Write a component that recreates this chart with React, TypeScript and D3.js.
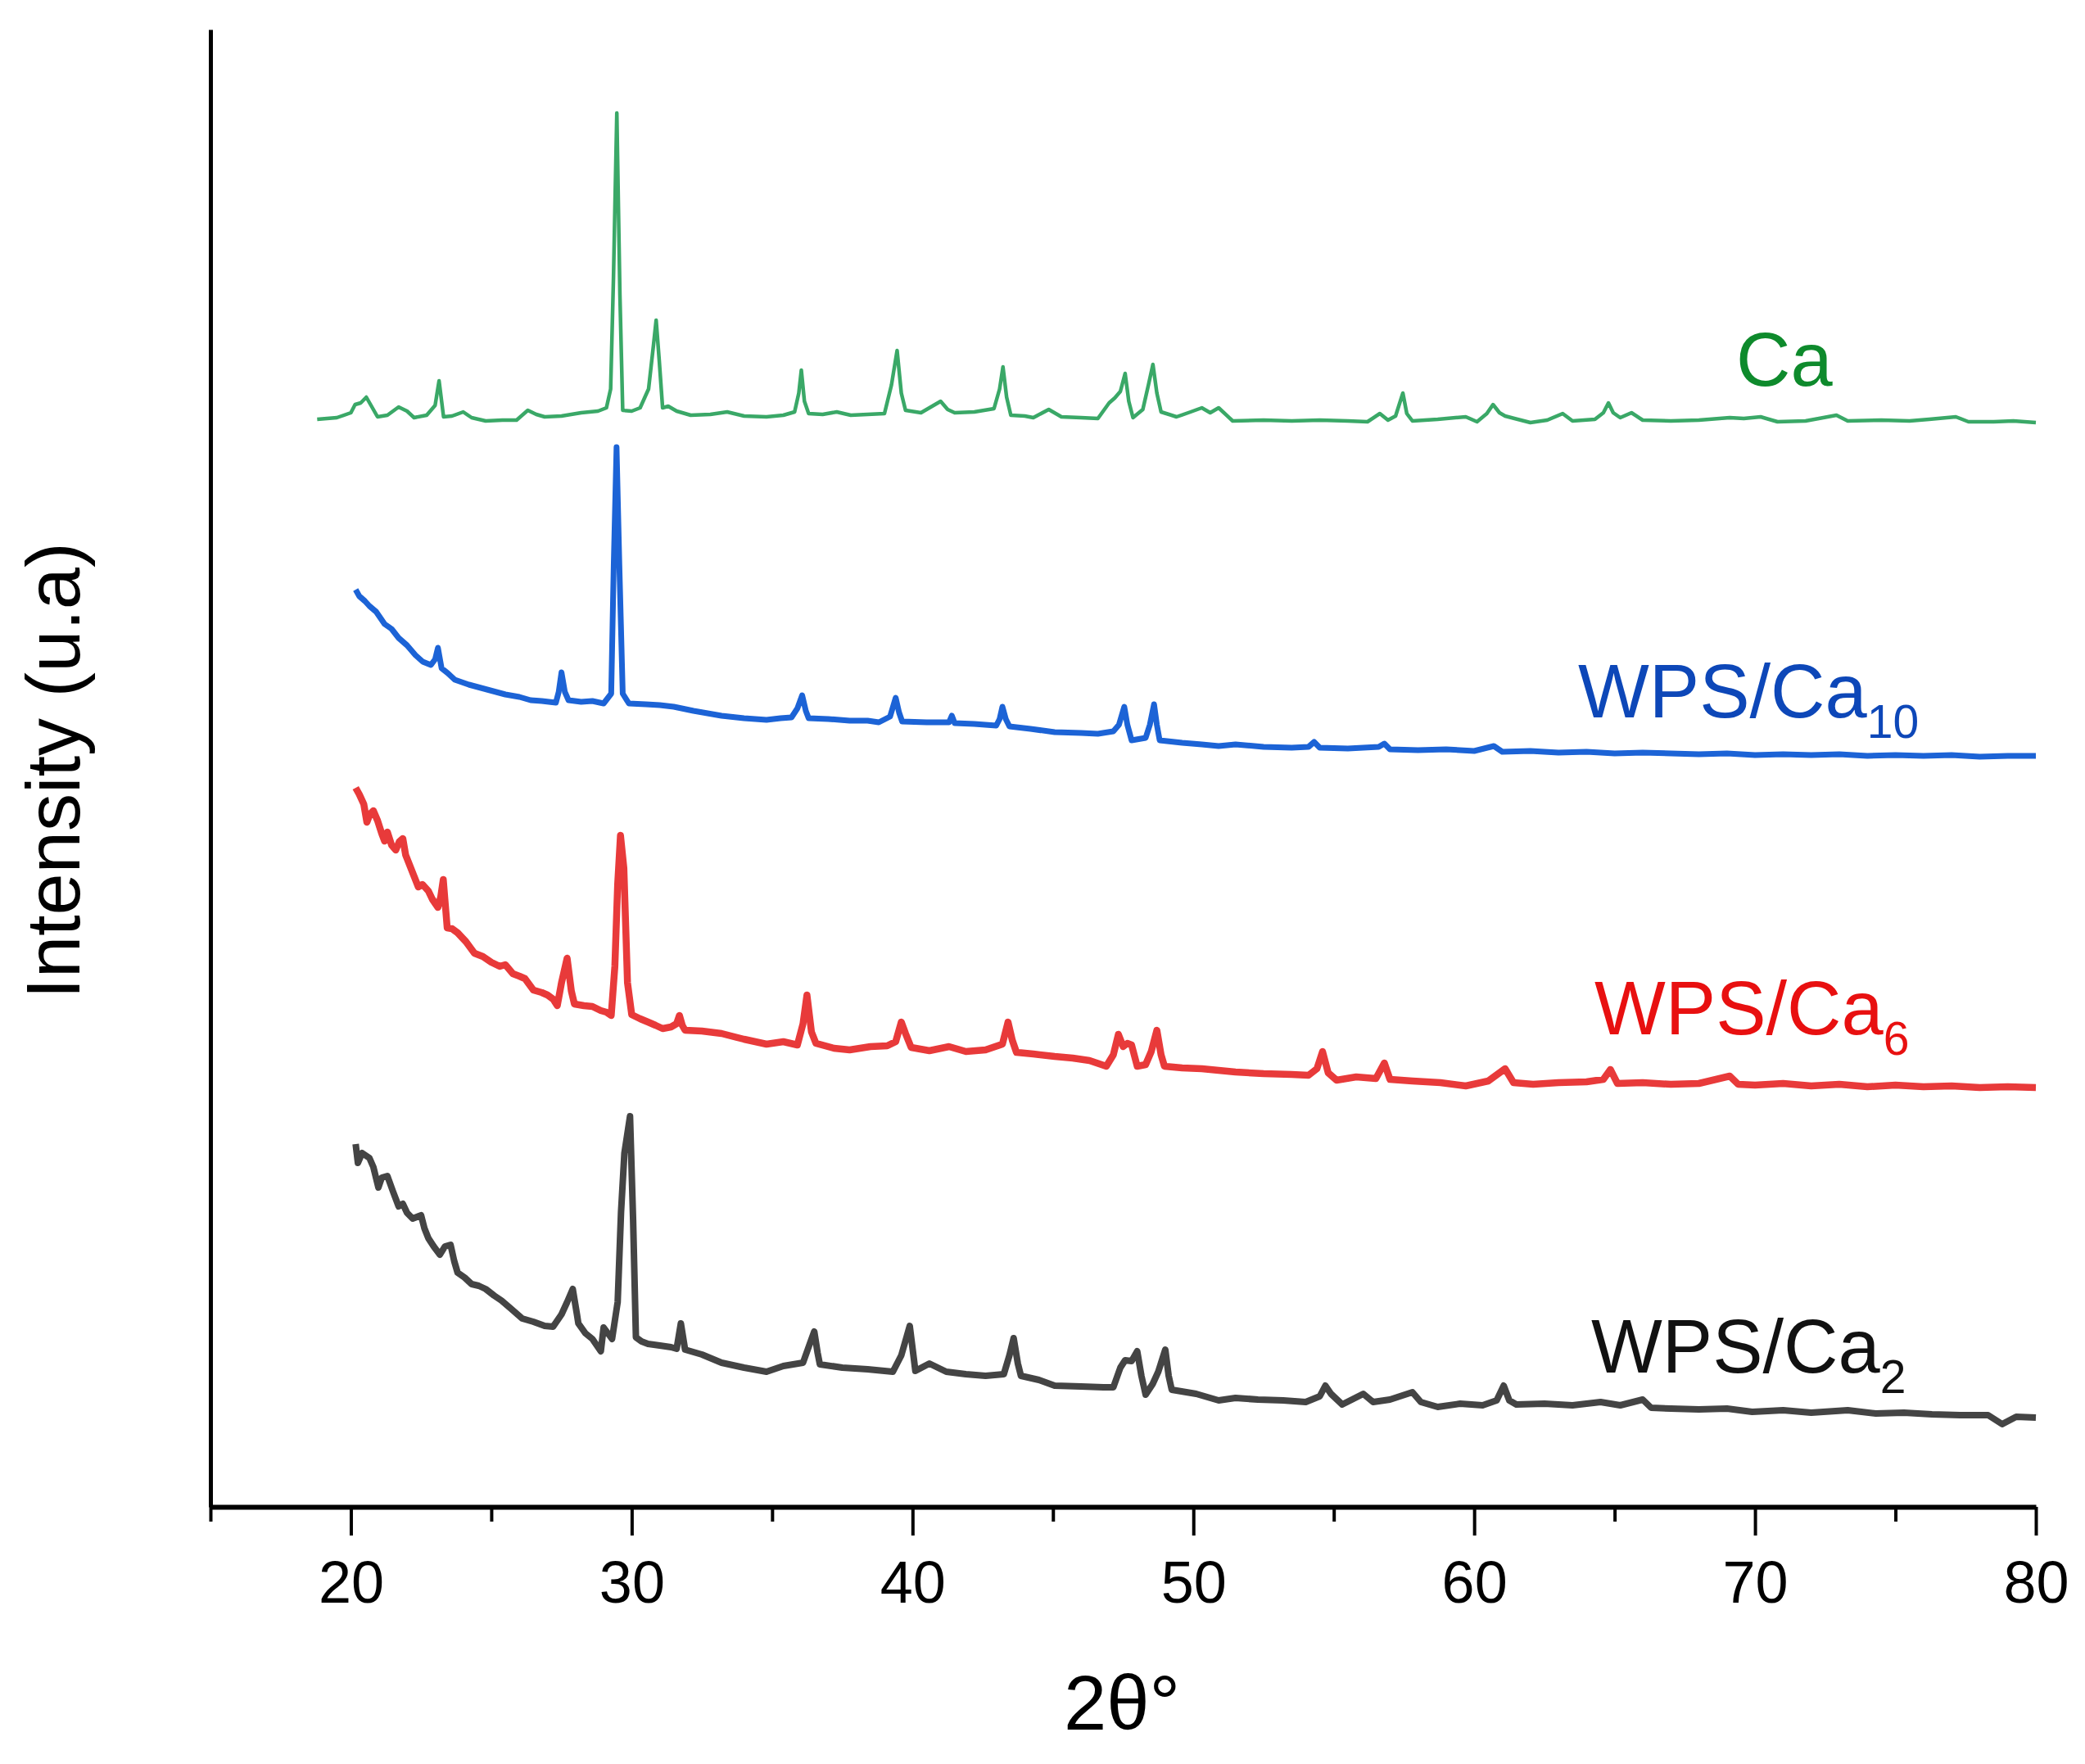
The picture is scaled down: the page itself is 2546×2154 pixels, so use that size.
import * as d3 from "d3";
import { useEffect, useRef } from "react";

type Pt = [number, number];

// 2θ (degrees) vs intensity (a.u., stacked offsets as plotted)
const caSeries: Pt[] = [
  [18.8, 1328], [19.5, 1330], [20.0, 1336], [20.15, 1346], [20.35, 1348], [20.55, 1355], [20.75, 1343],
  [20.95, 1331], [21.3, 1333], [21.7, 1343], [22.0, 1338], [22.25, 1330], [22.7, 1333], [23.0, 1345],
  [23.14, 1375], [23.3, 1331], [23.6, 1332], [24.0, 1337], [24.3, 1330], [24.8, 1326], [25.4, 1327],
  [25.9, 1327], [26.3, 1339], [26.6, 1334], [26.9, 1331], [27.5, 1332], [28.2, 1336], [28.8, 1338],
  [29.1, 1342], [29.25, 1365], [29.35, 1500], [29.47, 1702], [29.58, 1480], [29.68, 1339], [30.0, 1338],
  [30.3, 1342], [30.6, 1365], [30.78, 1420], [30.87, 1449], [30.98, 1400], [31.1, 1342], [31.3, 1344],
  [31.6, 1338], [32.1, 1333], [32.8, 1334], [33.4, 1337], [34.0, 1332], [34.8, 1331], [35.4, 1333],
  [35.8, 1337], [35.95, 1360], [36.04, 1388], [36.15, 1350], [36.3, 1335], [36.8, 1334], [37.3, 1337],
  [37.8, 1333], [38.4, 1334], [39.0, 1335], [39.25, 1370], [39.45, 1412], [39.6, 1360], [39.75, 1339],
  [40.3, 1336], [40.8, 1346], [41.0, 1350], [41.25, 1340], [41.5, 1336], [42.2, 1337], [42.9, 1341],
  [43.1, 1365], [43.22, 1392], [43.35, 1355], [43.5, 1333], [44.0, 1332], [44.3, 1330], [44.85, 1340],
  [45.3, 1331], [46.0, 1330], [46.6, 1329], [47.0, 1348], [47.2, 1354], [47.4, 1362], [47.57, 1384],
  [47.7, 1350], [47.85, 1330], [48.2, 1340], [48.4, 1370], [48.56, 1395], [48.7, 1360], [48.85, 1337],
  [49.4, 1331], [49.9, 1337], [50.3, 1342], [50.6, 1336], [50.9, 1342], [51.4, 1326], [52.5, 1327],
  [53.5, 1326], [54.5, 1327], [55.5, 1326], [56.2, 1325], [56.64, 1335], [56.93, 1327], [57.2, 1332],
  [57.46, 1360], [57.6, 1335], [57.8, 1326], [58.7, 1328], [59.7, 1331], [60.1, 1325], [60.45, 1335],
  [60.67, 1346], [60.9, 1336], [61.1, 1332], [62.0, 1324], [62.6, 1327], [63.15, 1335], [63.5, 1326],
  [64.3, 1328], [64.6, 1336], [64.78, 1348], [64.95, 1336], [65.2, 1330], [65.6, 1336], [66.0, 1327],
  [67.0, 1326], [68.0, 1327], [69.1, 1330], [69.6, 1329], [70.2, 1331], [70.8, 1325], [71.8, 1326],
  [72.9, 1333], [73.3, 1326], [74.5, 1327], [75.5, 1326], [76.2, 1328], [77.15, 1331], [77.6, 1325],
  [78.5, 1325], [79.2, 1326], [80, 1324],
];

const wpsCa10Series: Pt[] = [
  [20.17, 1120], [20.3, 1112], [20.5, 1106], [20.66, 1100], [20.9, 1093], [21.2, 1078], [21.45, 1072],
  [21.7, 1061], [22.0, 1052], [22.3, 1040], [22.56, 1032], [22.85, 1028], [23.0, 1035], [23.1, 1049],
  [23.23, 1024], [23.45, 1018], [23.7, 1010], [24.2, 1004], [24.85, 998], [25.5, 992], [26.0, 989],
  [26.4, 985], [26.8, 984], [27.3, 982], [27.4, 995], [27.5, 1019], [27.62, 995], [27.75, 985],
  [28.2, 983], [28.6, 984], [29.0, 981], [29.27, 993], [29.36, 1150], [29.46, 1294], [29.56, 1150],
  [29.68, 993], [29.9, 981], [30.5, 980], [31.0, 979], [31.5, 977], [32.2, 972], [32.7, 969],
  [33.2, 966], [34.0, 963], [34.8, 961], [35.3, 963], [35.69, 964], [35.9, 975], [36.07, 991],
  [36.2, 972], [36.3, 963], [37.0, 962], [37.76, 960], [38.4, 960], [38.8, 958], [39.2, 965],
  [39.4, 988], [39.52, 970], [39.63, 959], [40.5, 958], [41.3, 958], [41.4, 966], [41.5, 957],
  [42.2, 956], [42.98, 954], [43.1, 962], [43.2, 977], [43.32, 962], [43.45, 953], [44.2, 950],
  [45.06, 946], [46.0, 945], [46.6, 944], [47.15, 947], [47.35, 955], [47.54, 977], [47.65, 955],
  [47.8, 936], [48.3, 939], [48.45, 955], [48.6, 980], [48.7, 955], [48.8, 936], [49.6, 933],
  [50.3, 931], [50.9, 929], [51.5, 931], [52.5, 928], [53.5, 927], [54.1, 928], [54.3, 934],
  [54.5, 927], [55.5, 926], [56.6, 928], [56.8, 932], [57.0, 925], [58.0, 924], [59.0, 925],
  [60.0, 923], [60.7, 929], [61.0, 922], [62.0, 923], [63.0, 921], [64.0, 922], [65.0, 920],
  [66.0, 921], [67.0, 920], [68.0, 919], [69.0, 920], [70.0, 918], [71.0, 919], [72.0, 918],
  [73.0, 919], [74.0, 917], [75.0, 918], [76.0, 917], [77.0, 918], [78.0, 916], [79.0, 917], [80, 917],
];

const wpsCa6Series: Pt[] = [
  [20.17, 878], [20.3, 870], [20.46, 858], [20.57, 836], [20.68, 846], [20.8, 850], [20.95, 838],
  [21.1, 822], [21.2, 813], [21.3, 824], [21.45, 808], [21.6, 802], [21.72, 812], [21.85, 816],
  [21.95, 796], [22.1, 783], [22.25, 770], [22.4, 757], [22.55, 760], [22.76, 752], [22.9, 742],
  [23.1, 732], [23.2, 745], [23.29, 766], [23.38, 728], [23.43, 707], [23.6, 706], [23.8, 701],
  [24.1, 690], [24.4, 676], [24.7, 672], [25.0, 665], [25.3, 660], [25.5, 662], [25.77, 651],
  [26.0, 648], [26.2, 645], [26.5, 631], [26.8, 628], [27.0, 625], [27.2, 620], [27.35, 612],
  [27.5, 640], [27.7, 670], [27.85, 630], [27.96, 614], [28.3, 612], [28.6, 611], [28.9, 606],
  [29.1, 604], [29.27, 600], [29.4, 660], [29.5, 760], [29.6, 820], [29.72, 780], [29.85, 640],
  [30.0, 601], [30.3, 596], [30.58, 592], [30.85, 588], [31.1, 584], [31.4, 586], [31.6, 590],
  [31.7, 600], [31.8, 588], [31.9, 582], [32.5, 581], [33.2, 578], [34.0, 571], [34.8, 565],
  [35.4, 568], [35.9, 564], [36.1, 590], [36.24, 625], [36.4, 580], [36.56, 566], [37.2, 560],
  [37.76, 558], [38.5, 562], [39.1, 563], [39.4, 568], [39.6, 592], [39.75, 578], [39.95, 561],
  [40.6, 557], [41.3, 562], [41.9, 556], [42.6, 558], [43.2, 565], [43.4, 592], [43.55, 570],
  [43.7, 555], [44.3, 553], [45.06, 550], [45.7, 548], [46.3, 545], [46.9, 538], [47.15, 552],
  [47.33, 577], [47.5, 562], [47.65, 566], [47.8, 564], [48.0, 538], [48.3, 540], [48.5, 556],
  [48.7, 582], [48.85, 552], [48.97, 538], [49.6, 536], [50.3, 535], [50.9, 533], [51.5, 531],
  [52.5, 529], [53.5, 528], [54.1, 527], [54.4, 535], [54.6, 556], [54.8, 530], [55.1, 521],
  [55.8, 525], [56.5, 523], [56.8, 542], [57.0, 522], [57.8, 520], [58.8, 518], [59.7, 514],
  [60.5, 520], [61.1, 535], [61.4, 518], [62.1, 516], [63.0, 518], [64.0, 519], [64.6, 522],
  [64.85, 534], [65.1, 517], [66.0, 518], [67.0, 516], [68.0, 517], [69.1, 526], [69.4, 516],
  [70.0, 515], [71.0, 517], [72.0, 514], [73.0, 516], [74.0, 513], [75.0, 515], [76.0, 513],
  [77.0, 514], [78.0, 512], [79.0, 513], [80, 512],
];

const wpsCa2Series: Pt[] = [
  [20.17, 443], [20.25, 420], [20.4, 432], [20.66, 426], [20.8, 415], [20.98, 390], [21.1, 402],
  [21.3, 404], [21.5, 385], [21.7, 367], [21.85, 370], [22.0, 359], [22.2, 352], [22.5, 356],
  [22.62, 340], [22.76, 328], [22.95, 318], [23.17, 308], [23.35, 318], [23.55, 320], [23.68, 300],
  [23.8, 286], [24.05, 280], [24.3, 272], [24.55, 270], [24.8, 266], [25.1, 258], [25.36, 252],
  [25.7, 242], [26.1, 230], [26.5, 226], [26.9, 221], [27.2, 220], [27.5, 235], [27.7, 250],
  [27.9, 266], [28.05, 235], [28.1, 224], [28.35, 212], [28.6, 205], [28.9, 190], [29.0, 219],
  [29.15, 212], [29.3, 205], [29.5, 250], [29.62, 360], [29.74, 432], [29.94, 477], [30.05, 350],
  [30.15, 207], [30.35, 202], [30.58, 199], [31.0, 197], [31.4, 195], [31.6, 193], [31.75, 224],
  [31.9, 192], [32.5, 186], [33.2, 176], [34.0, 170], [34.8, 165], [35.4, 172], [36.1, 176],
  [36.35, 200], [36.5, 214], [36.62, 188], [36.7, 174], [37.5, 170], [38.4, 168], [39.3, 165],
  [39.6, 185], [39.9, 221], [40.05, 180], [40.1, 166], [40.6, 175], [41.2, 165], [41.9, 162],
  [42.6, 160], [43.25, 162], [43.45, 185], [43.6, 206], [43.75, 175], [43.86, 160], [44.5, 155],
  [45.06, 148], [46.0, 147], [46.8, 146], [47.15, 146], [47.4, 170], [47.57, 179], [47.8, 178],
  [48.0, 190], [48.15, 160], [48.3, 137], [48.55, 150], [48.75, 165], [49.0, 192], [49.12, 160],
  [49.23, 143], [50.1, 138], [50.9, 130], [51.5, 133], [52.3, 131], [53.2, 130], [54.0, 128],
  [54.5, 135], [54.7, 148], [54.9, 138], [55.3, 125], [56.05, 138], [56.4, 128], [57.0, 131],
  [57.8, 140], [58.1, 128], [58.7, 122], [59.5, 126], [60.3, 124], [60.8, 130], [61.05, 148],
  [61.25, 130], [61.5, 125], [62.5, 126], [63.5, 124], [64.5, 128], [65.2, 124], [66.0, 131],
  [66.3, 121], [67.0, 120], [68.0, 119], [69.0, 120], [69.9, 116], [71.0, 118], [72.0, 115],
  [73.3, 118], [74.3, 114], [75.3, 115], [76.3, 113], [77.3, 112], [78.3, 112], [78.8, 101],
  [79.3, 110], [80, 109],
];

const majorTicks = [20, 30, 40, 50, 60, 70, 80];
const minorTicks = [15, 25, 35, 45, 55, 65, 75];

const series = [
  { name: "Ca", sub: "", data: caSeries, line: "#3aa867", text: "#0e8a2c", width: 4.5 },
  { name: "WPS/Ca", sub: "10", data: wpsCa10Series, line: "#1c63d6", text: "#0d47b8", width: 7 },
  { name: "WPS/Ca", sub: "6", data: wpsCa6Series, line: "#e83a3a", text: "#e81010", width: 8.5 },
  { name: "WPS/Ca", sub: "2", data: wpsCa2Series, line: "#444444", text: "#111111", width: 8 },
];

// label anchor positions in pixels (left x, baseline y)
const labelPos = [
  [2120, 471],
  [1927, 876],
  [1947, 1263],
  [1943, 1676],
];

const W = 2546;
const H = 2154;
const plot = { left: 257, right: 2486, top: 36, bottom: 1840 };
const font = "'Liberation Sans', Arial, sans-serif";

export default function App() {
  const svgRef = useRef<SVGSVGElement>(null);

  useEffect(() => {
    if (!svgRef.current) return;
    const svg = d3.select(svgRef.current);
    svg.selectAll("*").remove();

    const x = d3.scaleLinear().domain([15, 80]).range([plot.left, plot.right]);
    const y = d3.scaleLinear().domain([0, 1804]).range([plot.bottom, plot.top]);

    const line = d3.line<Pt>()
      .x((d) => x(d[0]))
      .y((d) => y(d[1]));

    series.forEach((s) => {
      svg.append("path")
        .datum(s.data)
        .attr("fill", "none")
        .attr("stroke", s.line)
        .attr("stroke-width", s.width)
        .attr("stroke-linejoin", "round")
        .attr("d", line);
    });

    // minor ticks first, then the major axis with labels
    svg.append("g")
      .attr("transform", `translate(0, ${plot.bottom})`)
      .call(d3.axisBottom(x).tickValues(minorTicks).tickSize(18).tickSizeOuter(0).tickFormat(() => ""))
      .call((g) => g.select(".domain").remove())
      .call((g) => g.selectAll("line").attr("stroke", "#000").attr("stroke-width", 4));

    const xAxis = svg.append("g")
      .attr("transform", `translate(0, ${plot.bottom})`)
      .call(d3.axisBottom(x).tickValues(majorTicks).tickSize(35).tickSizeOuter(0).tickFormat(d3.format("d")));

    xAxis.select(".domain").attr("stroke", "#000").attr("stroke-width", 6);
    xAxis.selectAll("line").attr("stroke", "#000").attr("stroke-width", 4);
    xAxis.selectAll("text")
      .attr("y", 66)
      .attr("fill", "#000")
      .style("font-family", font)
      .style("font-size", "72px");

    const yAxis = svg.append("g")
      .attr("transform", `translate(${plot.left}, 0)`)
      .call(d3.axisLeft(y).tickValues([]).tickSizeOuter(0));
    yAxis.select(".domain").attr("stroke", "#000").attr("stroke-width", 5);

    svg.append("text")
      .attr("x", 1370)
      .attr("y", 2112)
      .attr("text-anchor", "middle")
      .style("font-family", font)
      .style("font-size", "94px")
      .text("2θ°");

    svg.append("text")
      .attr("transform", `translate(97, 941) rotate(-90)`)
      .attr("text-anchor", "middle")
      .style("font-family", font)
      .style("font-size", "92px")
      .text("Intensity (u.a)");

    series.forEach((s, i) => {
      const t = svg.append("text")
        .attr("x", labelPos[i][0])
        .attr("y", labelPos[i][1])
        .attr("fill", s.text)
        .style("font-family", font)
        .style("font-size", "92px")
        .text(s.name);
      if (s.sub) {
        t.append("tspan")
          .attr("dy", 25)
          .style("font-size", "57px")
          .text(s.sub);
      }
    });
  }, []);

  return (
    <svg
      ref={svgRef}
      width={W}
      height={H}
      style={{ position: "absolute", left: 0, top: 0, background: "#fff" }}
    ></svg>
  );
}
